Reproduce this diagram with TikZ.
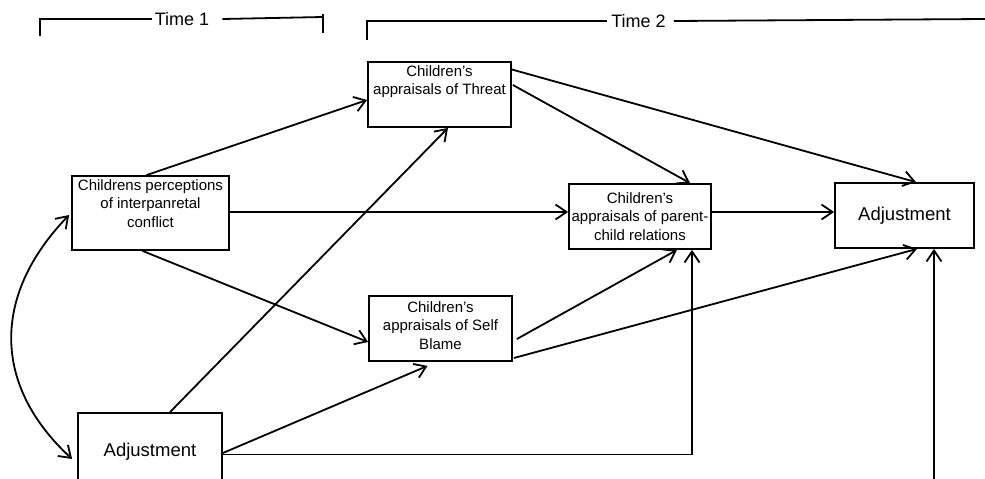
\documentclass[tikz,border=0pt]{standalone}
\usepackage{fontspec}
\setmainfont{Liberation Sans}
\usetikzlibrary{arrows.meta}
\begin{document}
\begin{tikzpicture}[x=1pt,y=-1pt,
  box/.style={draw, line width=1.8pt, rectangle, inner sep=0pt},
  lbl/.style={font=\fontsize{15}{18.5}\selectfont, align=center, inner sep=0pt},
  big/.style={font=\fontsize{18.5}{22}\selectfont},
  conn/.style={line width=1.8pt, -{Straight Barb[length=11pt,width=15pt]}},
  dconn/.style={line width=1.8pt, {Straight Barb[length=11pt,width=15pt]}-{Straight Barb[length=11pt,width=15pt]}},
  brk/.style={line width=1.8pt},
  tlabel/.style={font=\fontsize{18}{20}\selectfont, inner sep=0pt},
]
\useasboundingbox (0,0) rectangle (985,479);
\clip (0,0) rectangle (985,479);

% time brackets
\node[tlabel] (t1) at (182,19) {Time 1};
\coordinate (t1a) at (40,36);
\coordinate (t1b) at (323,17);
\draw[brk] (t1a) |- ([xshift=-3pt]t1.west);
\draw[brk] ([xshift=13pt]t1.east) -- (t1b);
\draw[brk] ([yshift=3pt]t1b) -- ([yshift=-16pt]t1b);

\node[tlabel] (t2) at (638.5,21) {Time 2};
\coordinate (t2a) at (367,40);
\coordinate (t2b) at (985,19);
\draw[brk] (t2a) |- ([xshift=-4pt]t2.west);
\draw[brk] ([xshift=8pt]t2.east) -- (t2b);

% boxes
\node[box, minimum width=157pt, minimum height=74pt] (per) at (150.5,213) {};
\node[lbl, anchor=north] at ([yshift=-4pt]per.north) {Childrens perceptions\\of interpanretal\\conflict};

\node[box, minimum width=143pt, minimum height=65pt] (thr) at (439.5,94.5) {};
\node[lbl, anchor=north] at ([yshift=-4pt]thr.north) {Children's\\appraisals of Threat};

\node[box, lbl, minimum width=142pt, minimum height=65pt] (pcr) at (640,216.5) {Children's\\appraisals of parent-\\child relations};

\node[box, minimum width=143pt, minimum height=65pt] (sbl) at (440.5,328.5) {};
\node[lbl] at ([yshift=3pt]sbl.center) {Children's\\appraisals of Self\\Blame};

\node[box, big, minimum width=139pt, minimum height=65pt] (adj2) at (904.5,215.5) {Adjustment};
\node[box, big, minimum width=144pt, minimum height=78pt] (adj1) at (150,452) {Adjustment};

% paths
\draw[conn] ([xshift=-4pt]per.north) -- ([yshift=-5.5pt]thr.west);
\draw[conn] ([yshift=1pt]per.east) -- ([yshift=1pt]per.east -| pcr.west);
\draw[conn] ([xshift=-8pt]per.south) -- ([yshift=-13.5pt]sbl.west);
\draw[conn] ([xshift=20pt]adj1.north) -- ([xshift=8.5pt]thr.south);
\draw[conn] ([yshift=-1pt]adj1.east) -- ([xshift=-13pt,yshift=-4pt]sbl.south);
\draw[conn] ([yshift=-2.5pt]adj1.east) -| ([xshift=52pt]pcr.south);
\draw[conn] ([xshift=1pt,yshift=9.5pt]thr.east) -- ([xshift=50pt]pcr.north);
\draw[conn] ([yshift=25pt]thr.east) -- ([xshift=11.5pt]adj2.north);
\draw[conn] ([yshift=4.5pt]pcr.east) -- ([yshift=4.5pt]pcr.east -| adj2.west);
\draw[conn] ([xshift=4pt,yshift=-10.5pt]sbl.east) -- ([xshift=37pt]pcr.south);
\draw[conn] ([xshift=1pt,yshift=-29.5pt]sbl.east) -- ([xshift=12.5pt]adj2.south);
\coordinate (lowin) at (934,485);
\draw[conn] (lowin) -- (lowin |- adj2.south);
\draw[dconn] ([xshift=-2pt,yshift=-2pt]per.west) .. controls (-8,295) and (-8,385) .. ([xshift=-5pt,yshift=-7pt]adj1.west);
\end{tikzpicture}
\end{document}
